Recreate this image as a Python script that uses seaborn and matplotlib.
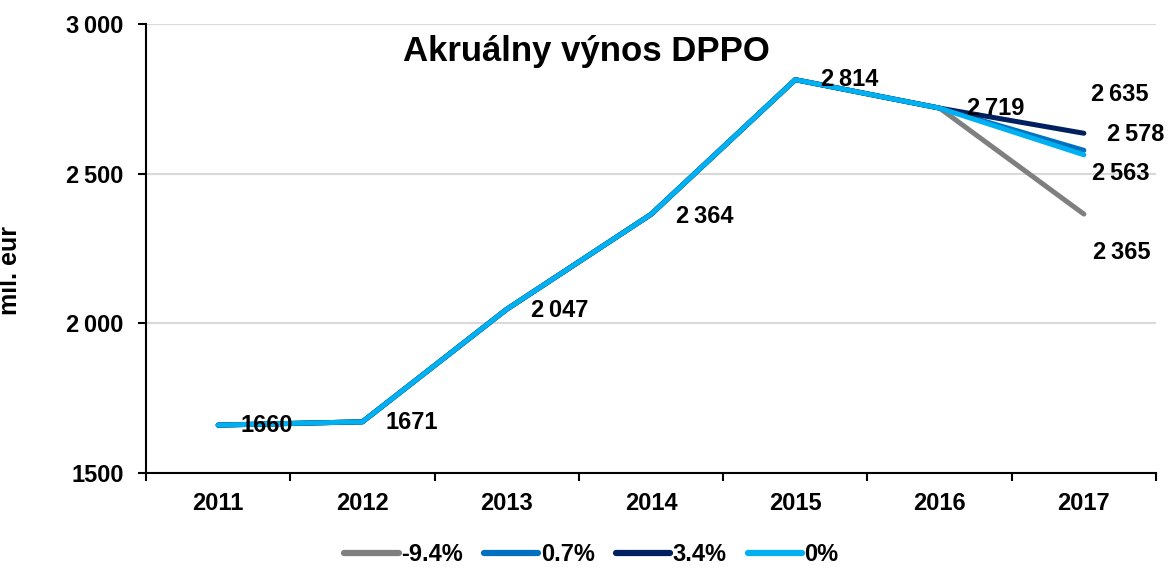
import pandas as pd
import seaborn as sns
import matplotlib.pyplot as plt
from matplotlib.lines import Line2D
from matplotlib.ticker import FixedLocator, NullFormatter

# --- data ---
years = ["2011", "2012", "2013", "2014", "2015", "2016", "2017"]
scenarios = ["-9.4%", "0.7%", "3.4%", "0%"]
common = [1660, 1671, 2047, 2364, 2814, 2719]
last_year = {"-9.4%": 2365, "0.7%": 2578, "3.4%": 2635, "0%": 2563}
colors = {"-9.4%": "#7f7f7f", "0.7%": "#0070c0", "3.4%": "#002060", "0%": "#00b0f0"}

# label offsets in pixels (placement only)
common_offsets = [(22, 0), (23, -1), (24, -1), (25, -2), (26, 0), (27, 0)]
last_offsets = {"3.4%": (7, 39), "0.7%": (23, 16), "0%": (8, -19), "-9.4%": (9, -38)}

rows = []
for s in scenarios:
    vals = common + [last_year[s]]
    for i, v in enumerate(vals):
        rows.append({"x": i, "value": v, "scenario": s})
df = pd.DataFrame(rows)

sns.set_style("white")
plt.rcParams["font.family"] = ["Liberation Sans", "DejaVu Sans"]
plt.rcParams["font.weight"] = "bold"
plt.rcParams["text.color"] = "black"
plt.rcParams["axes.labelcolor"] = "black"
plt.rcParams["xtick.color"] = "black"
plt.rcParams["ytick.color"] = "black"


def fmt(v):
    s = str(v)
    if v >= 2000:
        return s[0] + "\u2009" + s[1:]
    return s


fig = plt.figure(figsize=(11.69, 5.68), dpi=100)
ax = fig.add_axes([146 / 1169, 1 - 473 / 568, 1010 / 1169, 449 / 568])

sns.lineplot(data=df, x="x", y="value", hue="scenario", hue_order=scenarios,
             palette=colors, linewidth=3.6, sort=False, legend=False, ax=ax,
             solid_capstyle="round", solid_joinstyle="round")

ax.set_xlim(-0.5, 6.5)
ax.set_ylim(1500, 3000)
ax.set_yticks([1500, 2000, 2500, 3000])
ax.set_yticklabels(["1500", "2\u2009000", "2\u2009500", "3\u2009000"],
                   fontsize=17, fontweight="bold")
ax.yaxis.grid(True, color="#d9d9d9", linewidth=1.5)
ax.xaxis.grid(False)
ax.set_axisbelow(True)

# category ticks between categories, labels at centres
ax.xaxis.set_major_locator(FixedLocator([i - 0.5 for i in range(8)]))
ax.xaxis.set_major_formatter(NullFormatter())
ax.set_xticks(range(7), minor=True)
ax.set_xticklabels(years, minor=True, fontsize=17, fontweight="bold")
ax.tick_params(axis="x", which="major", bottom=True, length=6, width=1.5,
               direction="out", color="black")
ax.tick_params(axis="x", which="minor", bottom=True, length=0, pad=14)
ax.tick_params(axis="y", left=True, length=6, width=1.5, direction="out", pad=10,
               color="black")

for side in ["top", "right"]:
    ax.spines[side].set_visible(False)
for side in ["left", "bottom"]:
    ax.spines[side].set_color("black")
    ax.spines[side].set_linewidth(1.5)

ax.set_xlabel("")
ax.set_ylabel("mil. eur", fontsize=18, fontweight="bold")
ax.yaxis.set_label_coords(-0.123, 0.45)

for i, v in enumerate(common):
    ax.annotate(fmt(v), (i, v), xytext=common_offsets[i], textcoords="offset pixels",
                ha="left", va="center", fontsize=17, fontweight="bold", zorder=5)
for s in scenarios:
    v = last_year[s]
    ax.annotate(fmt(v), (6, v), xytext=last_offsets[s], textcoords="offset pixels",
                ha="left", va="center", fontsize=17, fontweight="bold", zorder=5)

fig.text(0.502, 1 - 52 / 568, "Akruálny výnos DPPO", ha="center", va="center",
         fontsize=25, fontweight="bold")

handles = [Line2D([0], [0], color=colors[s], linewidth=4.5, solid_capstyle="round")
           for s in scenarios]
fig.legend(handles, scenarios, loc="center", bbox_to_anchor=(0.506, 0.023), ncol=4,
           frameon=False, handlelength=2.3, handletextpad=0.1,
           columnspacing=0.9, prop={"weight": "bold", "size": 17})

fig.savefig("out.png", dpi=100)
